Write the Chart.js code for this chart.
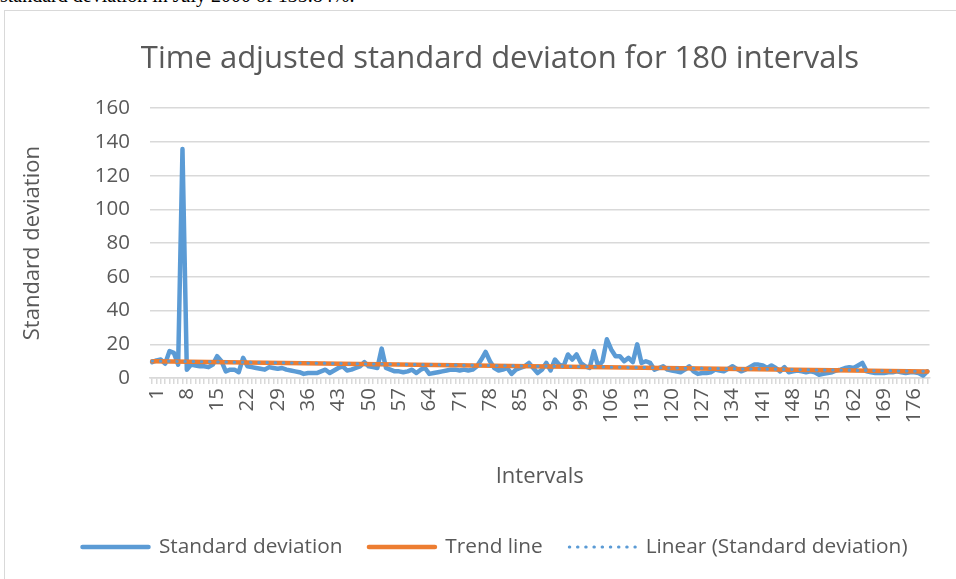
<!DOCTYPE html>
<html lang="en">
<head>
  <meta charset="UTF-8">
  <title>Time adjusted standard deviaton for 180 intervals</title>
  <script src="https://cdn.jsdelivr.net/npm/chart.js"></script>
  <style>
    body {
      margin: 0;
      padding: 0;
      background: #fff;
      overflow: hidden;
    }

    .doc-text {
      position: absolute;
      left: 0;
      top: -15px;
      font-family: "Liberation Serif", serif;
      font-size: 20px;
      line-height: 20px;
      color: #000;
      white-space: nowrap;
    }

    .frame {
      position: absolute;
      left: 4px;
      top: 10px;
      width: 1000px;
      height: 600px;
      border: 1px solid #d9d9d9;
      box-sizing: border-box;
    }

    .chart-box {
      position: absolute;
      left: 0;
      top: 0;
      width: 956px;
      height: 579px;
    }
  </style>
</head>
<body>
  <div class="doc-text">standard deviation in July 2000 of 135.84%.</div>
  <div class="frame"></div>
  <div class="chart-box">
    <canvas id="chartCanvas"></canvas>
  </div>

  <script>
    // intervals 1..180
    const intervals = Array.from({ length: 180 }, (_, i) => String(i + 1));

    // labels shown on the x axis
    const shownTicks = ["1", "8", "15", "22", "29", "36", "43", "50", "57", "64", "71", "78", "85",
      "92", "99", "106", "113", "120", "127", "134", "141", "148", "155", "162", "169", "176"];

    // standard deviation per interval
    const stdDev = [
      9.5, 10.5, 11, 8.5, 16, 15, 8, 135.84, 5, 8,
      7.5, 7, 7, 6.5, 8, 13, 10, 4, 5, 5,
      3.5, 12, 7, 6.5, 6, 5.5, 5, 6.5, 6, 5.5,
      6, 5, 4.5, 4, 3.5, 2.5, 3, 3, 3, 4,
      5, 3, 4.5, 6, 7, 4.5, 5, 6, 7, 9.5,
      7, 6.5, 6, 17.5, 6, 5, 4, 4, 3.5, 4,
      5, 3, 5, 6, 2.5, 3, 3.5, 4, 4.5, 5,
      5, 4.5, 5, 4.5, 5, 7, 11, 15.5, 10, 6,
      4.5, 5, 6, 2.5, 5, 6, 7, 9, 6, 3,
      5, 9, 4.5, 11, 8, 7, 14, 11, 14, 9,
      7, 6, 16, 7, 10, 23, 17, 13, 13, 10,
      12, 9.5, 20, 9, 10, 9, 5, 6, 7, 5,
      4.5, 4, 3.5, 5, 7, 4, 2.5, 3, 3, 3.5,
      5, 4.5, 4, 5.5, 7, 5.5, 4, 5, 6.5, 8,
      8, 7.5, 6, 7.5, 6, 4, 6.5, 3.5, 4, 4.5,
      4, 3.5, 4, 3.5, 2, 2.5, 3, 3.5, 4.5, 5,
      6, 6.5, 6, 7.5, 9, 4, 3.5, 3, 3, 3,
      3.5, 3.5, 4, 3.5, 3, 3.5, 3.5, 3, 1.5, 4
    ];

    // straight lines: value at interval 1 and at interval 180
    const trendEnds = [10, 3.9];
    const linearEnds = [10.1, 4.0];

    const yTicks = [0, 20, 40, 60, 80, 100, 120, 140, 160];

    const blue = "#5B9BD5";
    const orange = "#ED7D31";
    const textGray = "#595959";
    const gridGray = "#D9D9D9";
    const fontFamily = "'Open Sans', sans-serif";

    // the original chart is wider than the visible crop, so title and legend sit right of centre
    const shiftBoxes = {
      id: "shiftBoxes",
      afterLayout(chart) {
        if (chart.titleBlock) {
          chart.titleBlock.left += 27;
          chart.titleBlock.right += 27;
        }
        if (chart.legend) {
          chart.legend.left += 22;
          chart.legend.right += 22;
        }
      }
    };

    const ctx = document.getElementById("chartCanvas").getContext("2d");

    new Chart(ctx, {
      type: "line",
      data: {
        labels: intervals,
        datasets: [
          {
            label: "Standard deviation",
            data: stdDev,
            borderColor: blue,
            backgroundColor: blue,
            borderWidth: 4.5,
            pointRadius: 0,
            tension: 0,
            borderJoinStyle: "round",
            borderCapStyle: "round",
            order: 3
          },
          {
            label: "Trend line",
            data: [
              { x: intervals[0], y: trendEnds[0] },
              { x: intervals[intervals.length - 1], y: trendEnds[1] }
            ],
            borderColor: orange,
            backgroundColor: orange,
            borderWidth: 4.5,
            pointRadius: 0,
            borderCapStyle: "round",
            order: 2
          },
          {
            label: "Linear (Standard deviation)",
            data: [
              { x: intervals[0], y: linearEnds[0] },
              { x: intervals[intervals.length - 1], y: linearEnds[1] }
            ],
            borderColor: blue,
            backgroundColor: blue,
            borderWidth: 3,
            borderDash: [0.5, 7.7],
            borderCapStyle: "round",
            pointRadius: 0,
            order: 1
          }
        ]
      },
      options: {
        responsive: true,
        maintainAspectRatio: false,
        animation: false,
        layout: {
          padding: { top: 10, left: 10, right: 20, bottom: 11.6 }
        },
        plugins: {
          title: {
            display: true,
            text: "Time adjusted standard deviaton for 180 intervals",
            color: textGray,
            font: { family: fontFamily, size: 31, weight: "normal" },
            padding: { top: 30.5, bottom: 30.5 }
          },
          legend: {
            position: "bottom",
            labels: {
              color: textGray,
              font: { family: fontFamily, size: 20.8 },
              usePointStyle: true,
              pointStyle: "line",
              pointStyleWidth: 66,
              padding: 26.5,
              sort: (a, b) => a.datasetIndex - b.datasetIndex,
              generateLabels: (chart) => {
                const items = Chart.defaults.plugins.legend.labels.generateLabels(chart);
                items.forEach(it => {
                  const ds = chart.data.datasets[it.datasetIndex];
                  it.lineDash = ds.borderDash || [];
                  it.lineCap = "round";
                  it.lineWidth = ds.borderWidth;
                  it.strokeStyle = ds.borderColor;
                });
                return items;
              }
            }
          },
          tooltip: { enabled: false }
        },
        scales: {
          x: {
            type: "category",
            offset: true,
            grid: {
              display: true,
              drawOnChartArea: false,
              drawTicks: true,
              tickLength: 6,
              color: gridGray,
              lineWidth: 1.5
            },
            border: { display: true, color: gridGray, width: 1.5 },
            ticks: {
              autoSkip: false,
              maxRotation: 90,
              minRotation: 90,
              padding: 4,
              labelOffset: 4.5,
              color: textGray,
              font: { family: fontFamily, size: 20.5 },
              callback: function (value) {
                const lab = this.getLabelForValue(value);
                return shownTicks.includes(lab) ? lab : "";
              }
            },
            title: {
              display: true,
              text: "Intervals",
              color: textGray,
              font: { family: fontFamily, size: 22 },
              padding: { top: 0, bottom: 19.9 }
            },
            afterFit: (scale) => { scale.height = 132; }
          },
          y: {
            min: 0,
            max: 160,
            afterBuildTicks: (scale) => {
              scale.ticks = yTicks.map(v => ({ value: v }));
            },
            grid: {
              color: gridGray,
              lineWidth: 1.5,
              drawTicks: false
            },
            border: { display: false },
            ticks: {
              padding: 20,
              color: textGray,
              font: { family: fontFamily, size: 20.5 }
            },
            title: {
              display: true,
              text: "Standard deviation",
              color: textGray,
              font: { family: fontFamily, size: 22 },
              padding: { top: 9.8, bottom: 0 }
            },
            afterFit: (scale) => { scale.width = 140; }
          }
        }
      },
      plugins: [shiftBoxes]
    });
  </script>
</body>
</html>
